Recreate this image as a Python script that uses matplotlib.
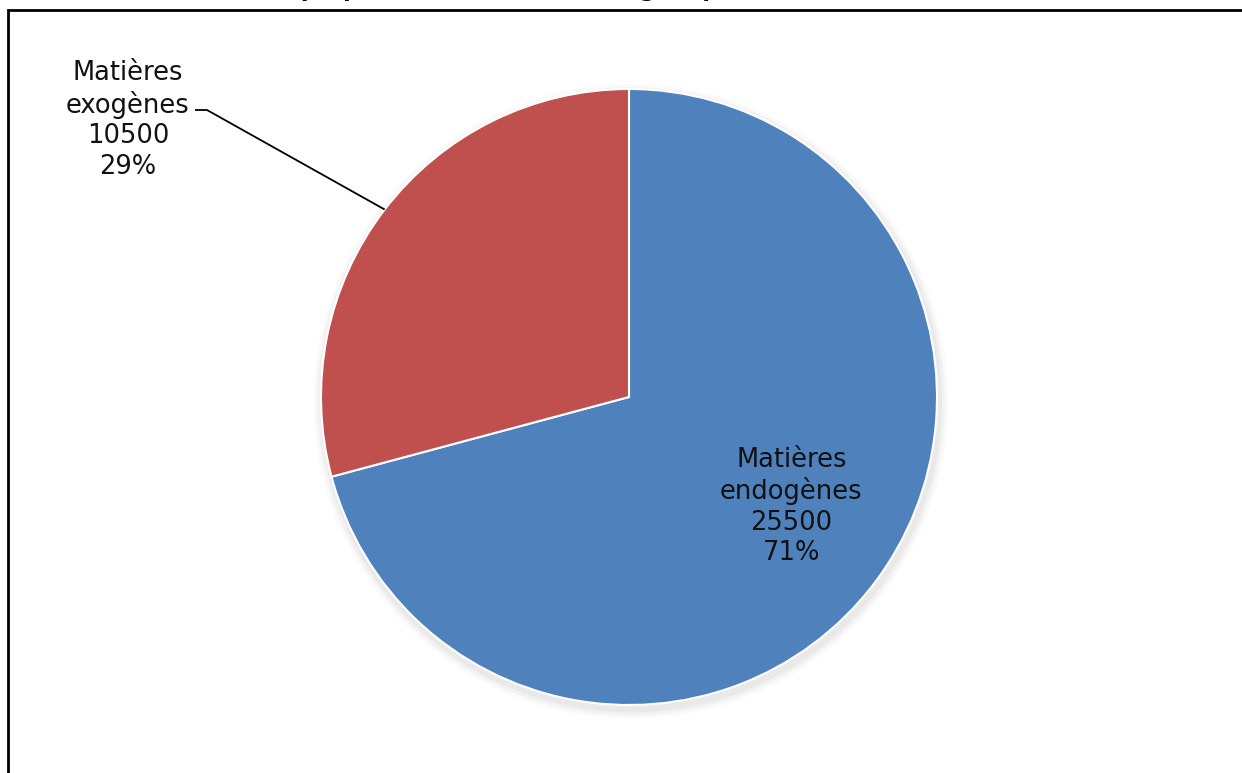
import numpy as np
import matplotlib.pyplot as plt
from matplotlib.patches import Rectangle, Circle

# données
noms = ["Matières\nendogènes", "Matières\nexogènes"]
valeurs = [25500, 10500]
couleurs = ["#4F81BD", "#C0504D"]
titre = "La proportion des matières organiques"

plt.rcParams['font.family'] = ['DejaVu Sans']
fig = plt.figure(figsize=(12.42, 7.73), dpi=100)
ax = fig.add_axes([0, 0, 1, 1])
R = 308.0  # rayon en pixels
cx, cy = 629, 397
ax.axis('off')

# ombre légère
for k, a in zip([1.03, 1.02, 1.01], [0.04, 0.06, 0.08]):
    ax.add_patch(Circle((0.006, -0.014), k, color='#808080', alpha=a, lw=0, zorder=0))

wedges, _ = ax.pie(valeurs, colors=couleurs, startangle=90, counterclock=False,
                   radius=1, wedgeprops=dict(edgecolor='white', linewidth=1.5))
ax.set_xlim(-cx / R, (1242 - cx) / R)
ax.set_ylim(-(773 - cy) / R, cy / R)
ax.set_aspect('auto')

total = sum(valeurs)
pct = [round(100 * v / total) for v in valeurs]

# étiquette intérieure (endogènes)
ax.text(0.527, -0.355, f"{noms[0]}\n{valeurs[0]}\n{pct[0]}%", ha='center', va='center',
        fontsize=18.5, linespacing=1.22, color='#111111')

# étiquette extérieure (exogènes) avec ligne de rappel
w = wedges[1]
mid = np.deg2rad((w.theta1 + w.theta2) / 2)
px, py = np.cos(mid), np.sin(mid)
lx, ly = -1.627, 0.900
ax.text(lx, ly, f"{noms[1]}\n{valeurs[1]}\n{pct[1]}%", ha='center', va='center',
        fontsize=18.5, linespacing=1.22, color='#111111')
x0, y0 = (195 - cx) / R, (cy - 110) / R
x1, y1 = (207 - cx) / R, (cy - 110) / R
ax.plot([x0, x1, px], [y0, y1, py], color='black', lw=1.3, solid_capstyle='butt')

# cadre
fig.add_artist(Rectangle((8 / 1242, -0.1), 1.1, 1.1 - 10 / 773, transform=fig.transFigure,
                         fill=False, edgecolor='black', lw=2))
# titre (coupé en haut)
fig.text(0.41, 1 + 3 / 773, titre, ha='center', va='baseline', fontsize=16, fontweight='bold')

fig.savefig("out.png", dpi=100)
